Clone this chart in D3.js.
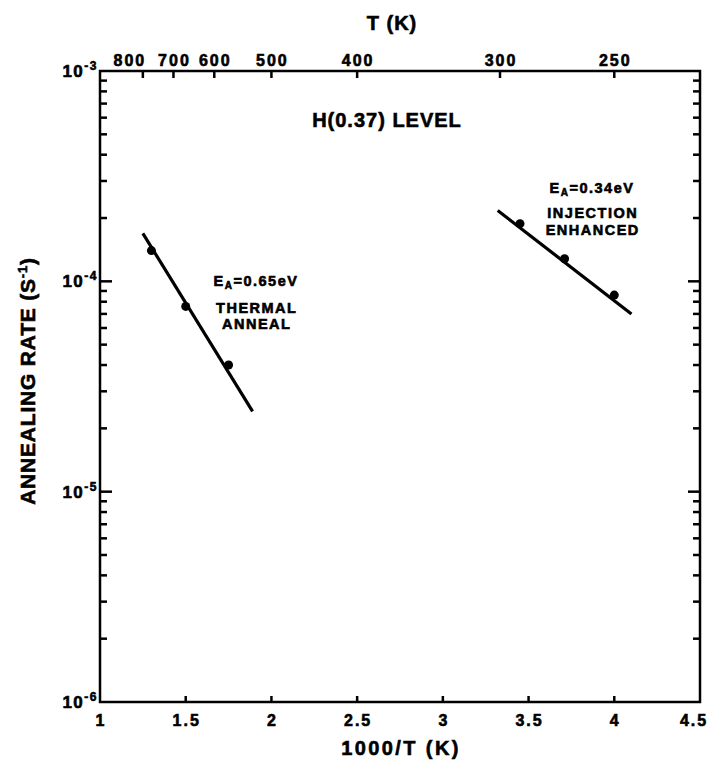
<!DOCTYPE html>
<html>
<head>
<meta charset="utf-8">
<script src="https://cdn.jsdelivr.net/npm/d3@7"></script>
<style>
  body { margin: 0; background: #fff; }
  text { font-family: "Liberation Sans", Arial, sans-serif; font-weight: bold; fill: #000;
         stroke: #000; stroke-width: 0.6px; letter-spacing: 1.5px; }
</style>
</head>
<body>
<script>
// data
var thermalX = [1.30, 1.50, 1.75];
var thermalY = [1.40e-4, 7.6e-5, 4.0e-5];
var thermalFitX = [1.25, 1.89];
var thermalFitY = [1.69e-4, 2.41e-5];

var injX = [3.45, 3.71, 4.00];
var injY = [1.88e-4, 1.28e-4, 8.6e-5];
var injFitX = [3.32, 4.10];
var injFitY = [2.17e-4, 7.0e-5];

var xTicks = [1, 1.5, 2, 2.5, 3, 3.5, 4, 4.5];
var xTickLabels = ["1", "1.5", "2", "2.5", "3", "3.5", "4", "4.5"];
var topTemps = [800, 700, 600, 500, 400, 300, 250];
var yMajor = [1e-6, 1e-5, 1e-4, 1e-3];
var yExp = ["-6", "-5", "-4", "-3"];

var W = 710, H = 763;
var margin = {top: 71, right: 10, bottom: 61, left: 100};
var w = W - margin.left - margin.right;
var h = H - margin.top - margin.bottom;

var svg = d3.select("body").append("svg")
    .attr("width", W)
    .attr("height", H);
var g = svg.append("g")
    .attr("transform", "translate(" + margin.left + "," + margin.top + ")");

var x = d3.scaleLinear().domain([1, 4.5]).range([0, w]);
var y = d3.scaleLog().domain([1e-6, 1e-3]).range([h, 0]);

// minor ticks 2..9 in each decade
var yMinor = [];
[1e-6, 1e-5, 1e-4].forEach(function (d) {
    for (var k = 2; k <= 9; k++) yMinor.push(d * k);
});

// tick marks, all pointing inward
var segs = [];
xTicks.slice(1, -1).forEach(function (d) { segs.push([x(d), h, x(d), h - 6]); });
topTemps.forEach(function (d) { segs.push([x(1000 / d), 0, x(1000 / d), 7]); });
[0, w].forEach(function (x0) {
    var dir = x0 ? -1 : 1;
    yMajor.slice(1, -1).forEach(function (d) { segs.push([x0, y(d), x0 + dir * 12, y(d)]); });
    yMinor.forEach(function (d) { segs.push([x0, y(d), x0 + dir * 7, y(d)]); });
});
g.selectAll(".tk").data(segs).enter().append("line")
    .attr("class", "tk")
    .attr("x1", function (s) { return s[0]; })
    .attr("y1", function (s) { return s[1]; })
    .attr("x2", function (s) { return s[2]; })
    .attr("y2", function (s) { return s[3]; })
    .attr("stroke", "#000")
    .attr("stroke-width", 2.5);

// x tick labels (last one nudged in so it stays on the page)
g.selectAll(".xl").data(xTicks).enter().append("text")
    .attr("x", function (d, i) { return x(d) + 1 + (i == xTicks.length - 1 ? -7 : 0); })
    .attr("y", h + 24)
    .attr("text-anchor", "middle")
    .style("font-size", "16px").style("letter-spacing", "2px")
    .text(function (d, i) { return xTickLabels[i]; });

// top temperature labels
g.selectAll(".tl").data(topTemps).enter().append("text")
    .attr("x", function (d, i) { return x(1000 / d) + 1 + (i == 0 ? -14 : 0); })
    .attr("y", -5)
    .attr("text-anchor", "middle")
    .style("font-size", "16px").style("letter-spacing", "2px")
    .text(function (d) { return d; });

// y tick labels 10^n
yMajor.forEach(function (d, i) {
    var t = g.append("text")
        .attr("y", y(d) + 6)
        .style("font-size", "17px");
    t.append("tspan").text("10");
    t.append("tspan").attr("dy", -7).style("font-size", "12px").text(yExp[i]);
    t.attr("x", -2 - t.node().getComputedTextLength());
});

// frame
g.append("rect")
    .attr("width", w).attr("height", h)
    .attr("fill", "none").attr("stroke", "#000").attr("stroke-width", 2.5);

// axis titles
svg.append("text")
    .attr("x", margin.left + w / 2 + 1).attr("y", 755)
    .attr("text-anchor", "middle")
    .style("font-size", "20px").style("letter-spacing", "2.4px")
    .text("1000/T (K)");

svg.append("text")
    .attr("x", 392).attr("y", 30)
    .attr("text-anchor", "middle")
    .style("font-size", "20px").style("letter-spacing", "1px")
    .text("T (K)");

// rotated y title, centred by measuring
var yl = svg.append("text")
    .style("font-size", "21px").style("letter-spacing", "0.8px");
yl.append("tspan").text("ANNEALING RATE (S");
yl.append("tspan").attr("dy", -8).style("font-size", "13px").text("-1");
yl.append("tspan").attr("dy", 8).text(")");
var ylLen = yl.node().getComputedTextLength();
yl.attr("transform", "translate(35," + (381 + ylLen / 2) + ") rotate(-90)");

// fit lines
var line = d3.line().x(function (d) { return x(d[0]); }).y(function (d) { return y(d[1]); });
[[thermalFitX, thermalFitY], [injFitX, injFitY]].forEach(function (f) {
    g.append("path")
        .datum(d3.zip(f[0], f[1]))
        .attr("d", line)
        .attr("fill", "none").attr("stroke", "#000").attr("stroke-width", 3.2);
});

// points
g.selectAll("circle")
    .data(d3.zip(thermalX, thermalY).concat(d3.zip(injX, injY)))
    .enter().append("circle")
    .attr("cx", function (d) { return x(d[0]); })
    .attr("cy", function (d) { return y(d[1]); })
    .attr("r", 4.5)
    .attr("fill", "#000");

// annotations
svg.append("text")
    .attr("x", 387).attr("y", 127)
    .attr("text-anchor", "middle")
    .style("font-size", "20px").style("letter-spacing", "1px")
    .text("H(0.37) LEVEL");

function ea(cx, cy, val) {
    var t = svg.append("text").style("font-size", "14.5px");
    t.append("tspan").text("E");
    t.append("tspan").attr("dy", 3).style("font-size", "10px").text("A");
    t.append("tspan").attr("dy", -3).text("=" + val + "eV");
    var len = t.node().getComputedTextLength();
    t.attr("x", cx - len / 2).attr("y", cy);
}
function lbl(cx, cy, s) {
    svg.append("text").attr("x", cx + 0.75).attr("y", cy)
        .attr("text-anchor", "middle").style("font-size", "14.5px")
        .text(s);
}
ea(256, 286, "0.65");
lbl(256, 313, "THERMAL");
lbl(256, 329, "ANNEAL");

ea(592, 193, "0.34");
lbl(592, 218, "INJECTION");
lbl(592, 235, "ENHANCED");
</script>
</body>
</html>
